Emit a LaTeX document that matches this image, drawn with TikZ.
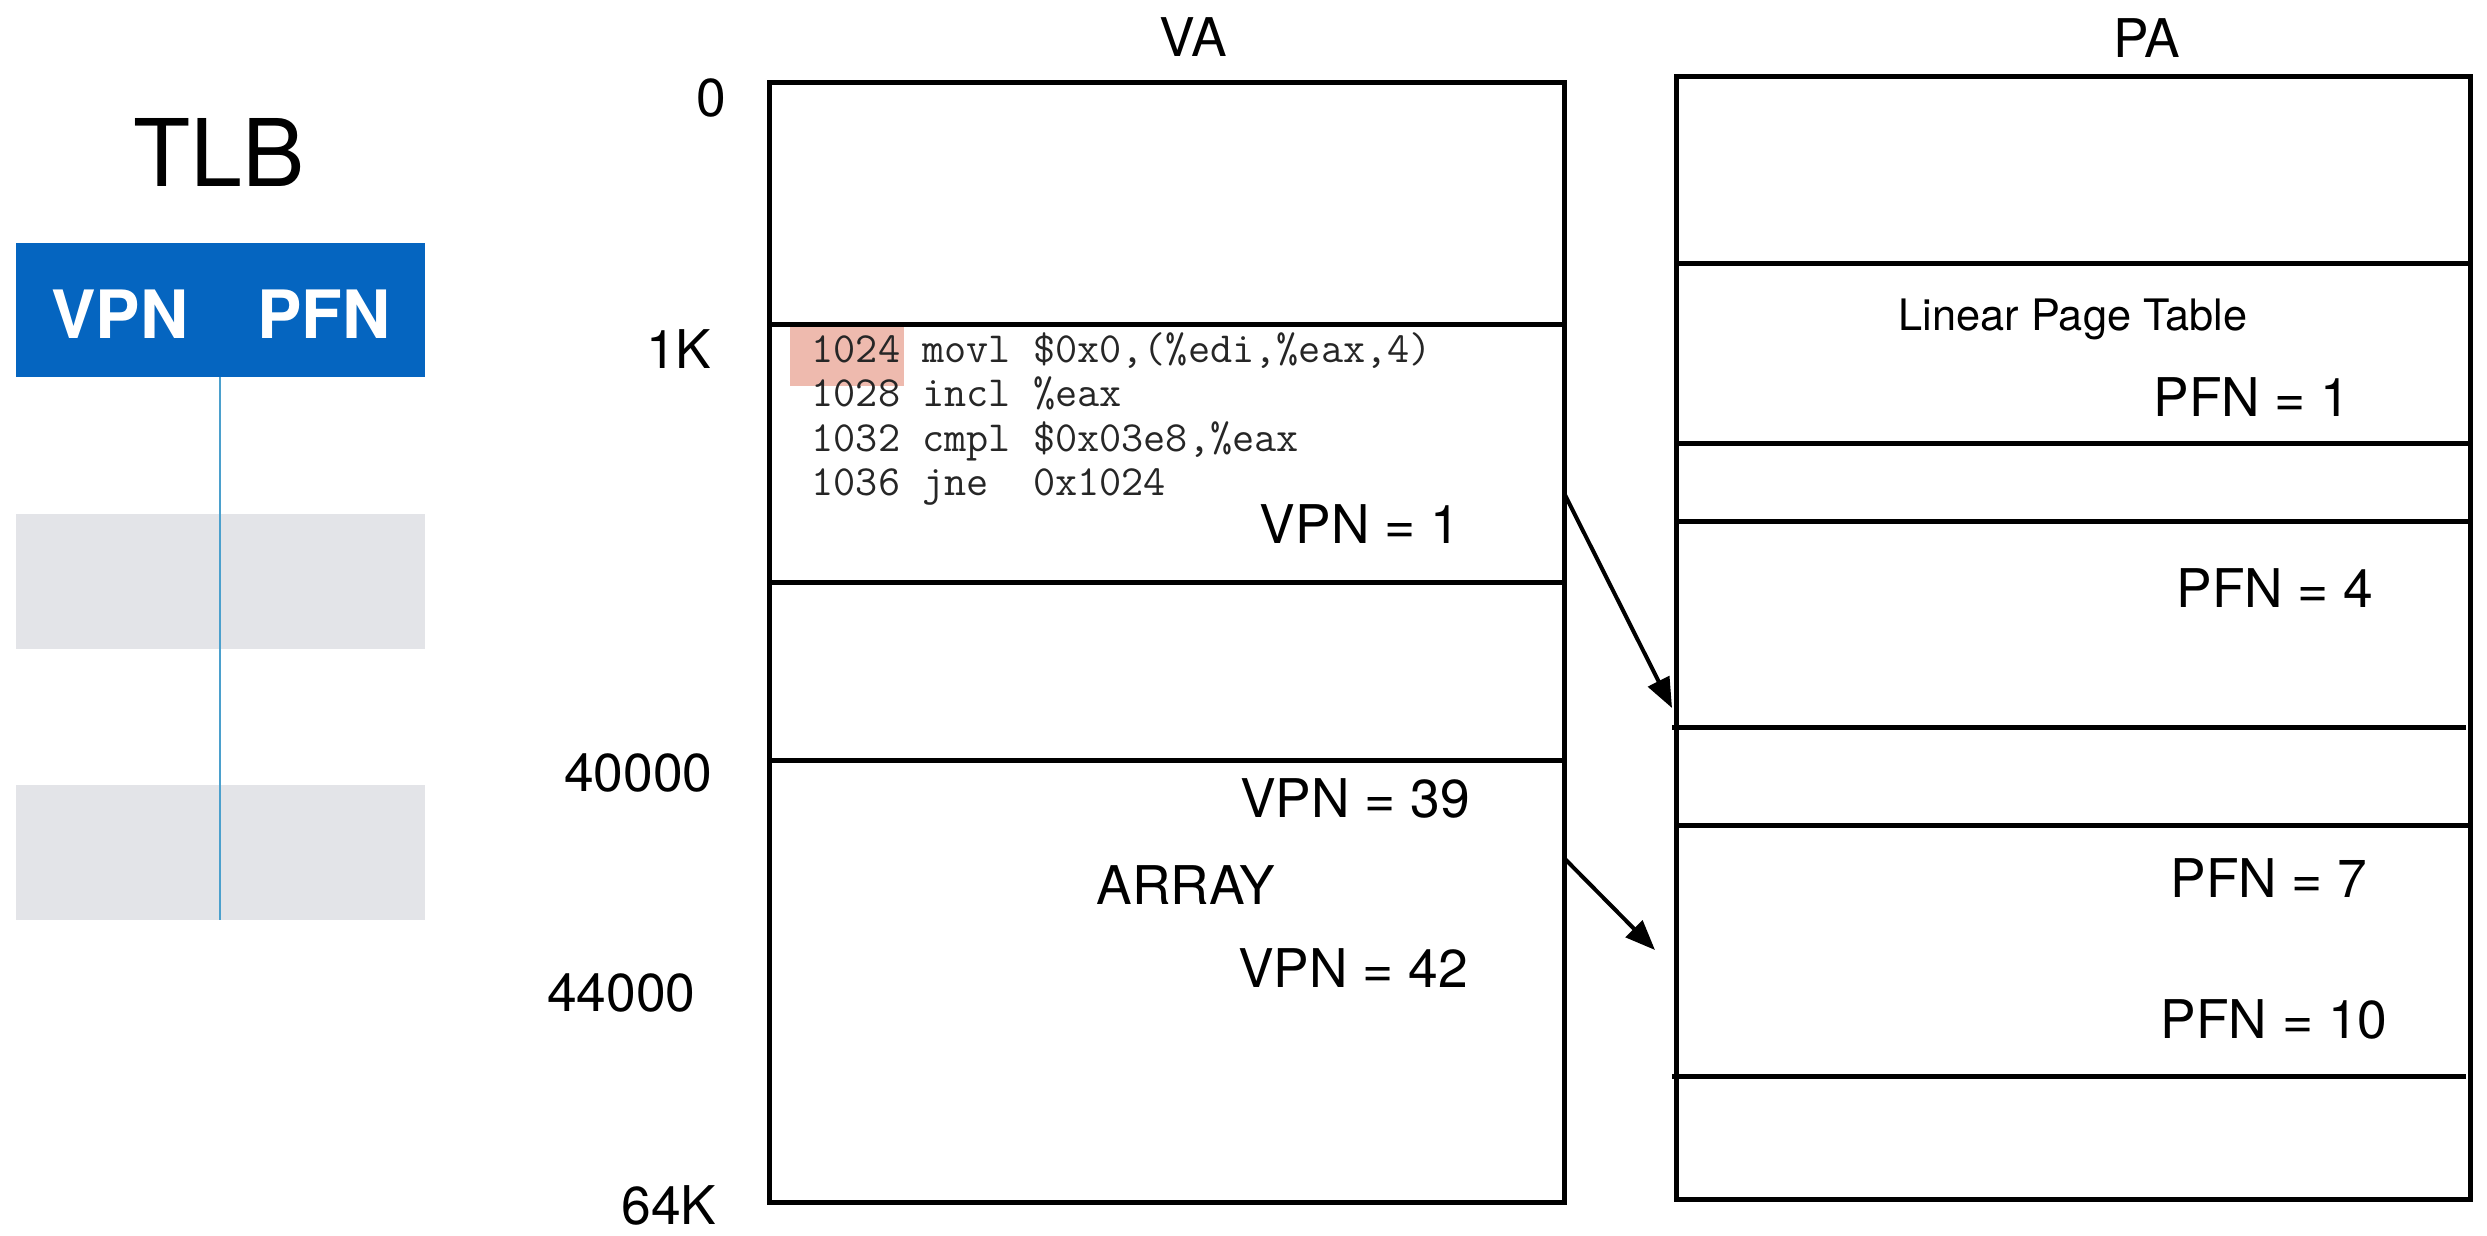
\documentclass[tikz,border=0pt]{standalone}
\usepackage{fontspec}
\setmainfont{TeX Gyre Heros}
\usetikzlibrary{arrows.meta}
\definecolor{tlbblue}{RGB}{5,101,192}
\definecolor{tlbgray}{RGB}{227,228,232}
\definecolor{tlbline}{RGB}{75,160,205}
\definecolor{hilite}{RGB}{238,186,174}
\tikzset{
  mem/.style={line width=1.5pt},
  lbl/.style={font=\fontsize{16}{18}\selectfont, inner sep=0pt, anchor=base},
  addr/.style={font=\fontsize{16}{18}\selectfont, inner sep=0pt, anchor=base east},
  asm/.style={font=\ttfamily\fontsize{12.9}{14}\selectfont, inner sep=0pt, anchor=base west, text=black!85},
  hdr/.style={font=\bfseries\fontsize{20}{22}\selectfont, text=white, inner sep=0pt, anchor=base},
  map/.style={line width=1.2pt, -{Triangle[length=9pt,width=7pt]}}
}
\begin{document}
\begin{tikzpicture}[x=0.3pt, y=-0.3pt]
      \useasboundingbox (0,0) rectangle (2487,1235);
      % TLB
      \fill[tlbblue] (16,243) rectangle (425,377);
      \fill[tlbgray] (16,514) rectangle (425,649);
      \fill[tlbgray] (16,785) rectangle (425,920);
      \draw[tlbline, line width=0.8pt] (220,377) -- (220,920);
      \draw
        (219,186) node[anchor=base, inner sep=0pt, font=\fontsize{28}{30}\selectfont] (tlb){TLB}
        (120,338) node[hdr] (tlbvpn){VPN}
        (324,338) node[hdr] (tlbpfn){PFN};
      % virtual address space
      \fill[hilite] (790,324) rectangle (904,386);
      \draw[mem] (769,82) rectangle (1564,1202);
      \draw[mem] (769,324) -- (1564,324);
      \draw[mem] (769,582) -- (1564,582);
      \draw[mem] (769,760) -- (1564,760);
      \draw
        (1193,56) node[lbl] (va){VA}
        (727,116) node[addr] (a0){0}
        (712,368) node[addr] (a1k){1K}
        (713,791) node[addr] (a40){40000}
        (696,1011) node[addr] (a44){44000}
        (717,1224) node[addr] (a64){64K}
        (811,362) node[asm] (c1){1024 movl \$0x0,(\%edi,\%eax,4)}
        (811,406) node[asm] (c2){1028 incl \%eax}
        (811,451) node[asm] (c3){1032 cmpl \$0x03e8,\%eax}
        (811,495) node[asm] (c4){1036 jne\ \ 0x1024}
        (1360,543) node[lbl] (vpn1){VPN = 1}
        (1355,817) node[lbl] (vpn39){VPN = 39}
        (1186,904) node[lbl] (array){ARRAY}
        (1353,987) node[lbl] (vpn42){VPN = 42};
      % physical memory
      \draw[mem] (1676,76) rectangle (2470,1199);
      \draw[mem] (1676,263) -- (2470,263);
      \draw[mem] (1676,443) -- (2470,443);
      \draw[mem] (1676,521) -- (2470,521);
      \draw[mem] (1672,727) -- (2466,727);
      \draw[mem] (1676,825) -- (2470,825);
      \draw[mem] (1672,1076) -- (2466,1076);
      \draw
        (2147,57) node[lbl] (pa){PA}
        (2073,330) node[lbl, font=\fontsize{13}{15}\selectfont] (lpt){Linear Page Table}
        (2252,416) node[lbl] (pfn1){PFN = 1}
        (2275,607) node[lbl] (pfn4){PFN = 4}
        (2269,897) node[lbl] (pfn7){PFN = 7}
        (2274,1038) node[lbl] (pfn10){PFN = 10};
      \coordinate (v1) at (1564,493);
      \coordinate (p1) at (1672,708);
      \coordinate (v2) at (1564,858);
      \coordinate (p2) at (1655,950);
      \begin{scope}[map]
        \draw (v1) to (p1);
        \draw (v2) to (p2);
      \end{scope}
    \end{tikzpicture}
\end{document}
